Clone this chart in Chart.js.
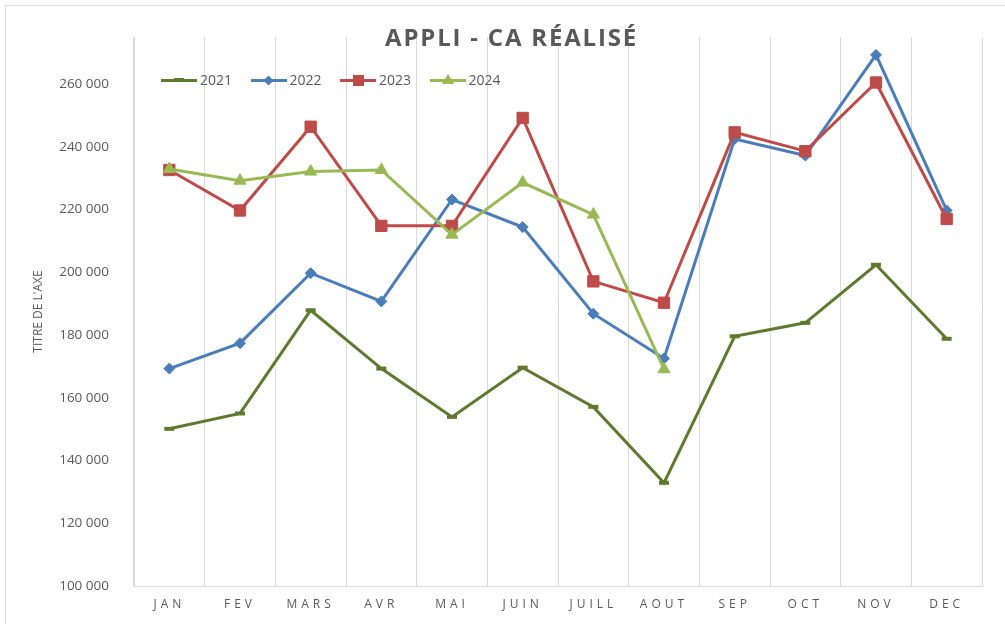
<!DOCTYPE html>
<html>
<head>
<meta charset="utf-8">
<title>Appli - CA réalisé</title>
<script src="https://cdn.jsdelivr.net/npm/chart.js@4/dist/chart.umd.min.js"></script>
<style>
    html, body { margin: 0; padding: 0; background: #fff; }
    #wrap { position: relative; width: 1005px; height: 624px; overflow: hidden; font-family: "Open Sans", sans-serif; }
    #frame { position: absolute; left: 5px; top: 5px; width: 1100px; height: 700px; border-left: 1px solid #d9d9d9; border-top: 1px solid #d9d9d9; }
    #chart { position: absolute; left: 0; top: 0; }
    #title { position: absolute; left: 0; top: 25px; width: 1023px; text-align: center; font-size: 24px; line-height: 24px; font-weight: 700; letter-spacing: 1.8px; color: #595959; }
    #legend { position: absolute; left: 161px; top: 70px; height: 20px; display: flex; }
    .item { display: flex; align-items: center; width: 89.5px; height: 20px; }
    .swatch { position: relative; width: 36px; height: 20px; }
    .swatch .ln { position: absolute; left: 0; top: 8.5px; width: 36px; height: 3px; }
    .swatch .mk { position: absolute; }
    .lbl { margin-left: 3px; font-size: 14px; color: #595959; line-height: 20px; }
</style>
</head>
<body>
<div id="wrap">
    <div id="frame"></div>
    <canvas id="chart" width="1005" height="624"></canvas>
    <div id="title">APPLI - CA RÉALISÉ</div>
    <div id="legend"></div>
</div>
<script>
// ===== DATA =====
const months = ['JAN', 'FEV', 'MARS', 'AVR', 'MAI', 'JUIN', 'JUILL', 'AOUT', 'SEP', 'OCT', 'NOV', 'DEC'];
const years = ['2021', '2022', '2023', '2024'];

const ca2021 = [150100, 155000, 187900, 169300, 153900, 169600, 157100, 132900, 179600, 183900, 202400, 178800];
const ca2022 = [169300, 177400, 199700, 190700, 223200, 214400, 186800, 172500, 242500, 237200, 269300, 219700];
const ca2023 = [232600, 219700, 246400, 214800, 214800, 249200, 197100, 190300, 244600, 238600, 260500, 217000];
const ca2024 = [232900, 229200, 232100, 232600, 212000, 228600, 218400, 169100, null, null, null, null];

const yTicks = [100000, 120000, 140000, 160000, 180000, 200000, 220000, 240000, 260000];

// ===== STYLES =====
const colors = ['#5e7a2e', '#4a7ebb', '#be4b48', '#98b954'];
const markers = ['line', 'rectRot', 'rect', 'triangle'];
const markerSize = [5, 5.5, 8, 7];
const textColor = '#595959';
const gridColor = '#d9d9d9';

function fmt(v) {
    return String(v).replace(/\B(?=(\d{3})+(?!\d))/g, ' ');
}

const series = [ca2021, ca2022, ca2023, ca2024];

const datasets = series.map((data, i) => ({
    label: years[i],
    data: data,
    borderColor: colors[i],
    backgroundColor: colors[i],
    borderWidth: 3,
    pointStyle: markers[i],
    pointRadius: markerSize[i],
    pointBorderWidth: i === 0 ? 4 : 1,
    pointBackgroundColor: colors[i],
    pointBorderColor: colors[i],
    tension: 0,
    spanGaps: false,
    order: 3 - i
}));

// letter spacing on the month labels
const spacedLabels = {
    id: 'spacedLabels',
    beforeDraw(chart) {
        const sc = chart.scales.x;
        if (sc._spaced) return;
        const orig = sc.drawLabels;
        sc.drawLabels = function (area) {
            const ctx = this.ctx;
            ctx.save();
            ctx.letterSpacing = '4px';
            orig.call(this, area);
            ctx.restore();
        };
        sc._spaced = true;
    }
};

new Chart(document.getElementById('chart'), {
    type: 'line',
    data: { labels: months, datasets: datasets },
    options: {
        responsive: false,
        animation: false,
        events: [],
        devicePixelRatio: 1,
        layout: { padding: { left: 0, top: 37, right: 23, bottom: 0 } },
        plugins: {
            legend: { display: false },
            title: { display: false },
            tooltip: { enabled: false }
        },
        scales: {
            x: {
                offset: true,
                grid: { display: true, offset: true, color: gridColor, lineWidth: 1, drawTicks: false },
                border: { display: true, color: gridColor, width: 1 },
                ticks: { color: textColor, font: { family: 'Open Sans', size: 12 }, padding: 11, maxRotation: 0, autoSkip: false },
                afterFit: s => { s.height = 38; }
            },
            y: {
                min: 100000,
                max: 275000,
                grid: { display: false, drawTicks: false },
                border: { display: true, color: gridColor, width: 1 },
                afterBuildTicks: s => { s.ticks = yTicks.map(v => ({ value: v })); },
                ticks: {
                    color: textColor,
                    font: { family: 'Open Sans', size: 13.5 },
                    padding: 25,
                    callback: v => fmt(v)
                },
                title: {
                    display: true,
                    text: "TITRE DE L'AXE",
                    color: textColor,
                    font: { family: 'Open Sans', size: 12 },
                    padding: { top: 31, bottom: 0 }
                },
                afterFit: s => { s.width = 134; }
            }
        }
    },
    plugins: [spacedLabels]
});

// ===== LEGEND =====
function markerHtml(i) {
    const c = colors[i];
    if (markers[i] === 'line') return `<span class="mk" style="left:13px;top:8px;width:10px;height:4px;background:${c}"></span>`;
    if (markers[i] === 'rectRot') return `<span class="mk" style="left:14.5px;top:6.5px;width:7px;height:7px;background:${c};transform:rotate(45deg)"></span>`;
    if (markers[i] === 'rect') return `<span class="mk" style="left:12.5px;top:4.5px;width:11px;height:11px;background:${c}"></span>`;
    return `<span class="mk" style="left:12px;top:4px;width:0;height:0;border-left:6px solid transparent;border-right:6px solid transparent;border-bottom:10px solid ${c}"></span>`;
}

document.getElementById('legend').innerHTML = years.map((y, i) =>
    `<div class="item"><span class="swatch"><span class="ln" style="background:${colors[i]}"></span>${markerHtml(i)}</span><span class="lbl">${y}</span></div>`
).join('');
</script>
</body>
</html>
